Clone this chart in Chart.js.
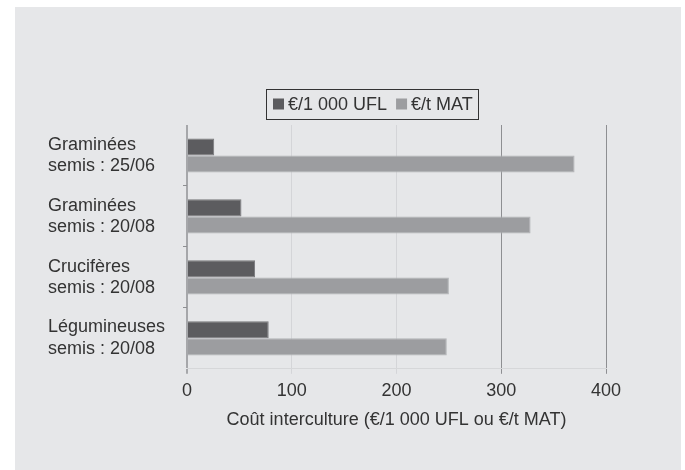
<!DOCTYPE html>
<html lang="fr">
<head>
<meta charset="utf-8">
<title>Coût interculture</title>
<script src="https://cdn.jsdelivr.net/npm/chart.js@4/dist/chart.umd.min.js"></script>
<style>
  html, body { margin: 0; padding: 0; background: #ffffff; }
  #panel {
    position: absolute; left: 15px; top: 7px;
    width: 666px; height: 463px;
    background: #e6e7e9;
  }
  #chart { display: block; }
</style>
</head>
<body>
<div id="panel"><canvas id="chart" width="666" height="463"></canvas></div>
<script>
// Intercrop types and sowing dates
const categories = [
  ['Graminées', 'semis : 25/06'],
  ['Graminées', 'semis : 20/08'],
  ['Crucifères', 'semis : 20/08'],
  ['Légumineuses', 'semis : 20/08']
];
// Cost per 1 000 UFL (energy)
const costUFL = [26, 52, 65, 78];
// Cost per tonne of MAT (protein)
const costMAT = [370, 328, 250, 248];
const seriesNames = ['€/1 000 UFL', '€/t MAT'];
const xTicks = [0, 100, 200, 300, 400];
const xTitle = 'Coût interculture (€/1 000 UFL ou €/t MAT)';

const FONT = 'Liberation Sans, Arial, Helvetica, sans-serif';
const TEXT = '#333333';

// Compact framed legend drawn above the plot
const framedLegend = {
  id: 'framedLegend',
  afterDraw(chart) {
    const ctx = chart.ctx;
    const x0 = 258, yMid = 97, box = 11, gapText = 4, gapItem = 9;
    ctx.save();
    ctx.font = '18px ' + FONT;
    ctx.textBaseline = 'middle';
    ctx.textAlign = 'left';
    let x = x0;
    chart.data.datasets.forEach((ds, i) => {
      if (i > 0) x += gapItem;
      ctx.fillStyle = ds.backgroundColor;
      ctx.fillRect(x, yMid - box / 2, box, box);
      x += box + gapText;
      ctx.fillStyle = TEXT;
      ctx.fillText(ds.label, x, yMid + 1);
      x += ctx.measureText(ds.label).width;
    });
    const l = x0 - 7, r = x + 5, t = yMid - 15, b = yMid + 15;
    ctx.strokeStyle = '#333333';
    ctx.lineWidth = 1;
    ctx.strokeRect(Math.round(l) + 0.5, Math.round(t) + 0.5, Math.round(r - l), Math.round(b - t));
    ctx.restore();
  }
};

new Chart(document.getElementById('chart'), {
  type: 'bar',
  data: {
    labels: categories,
    datasets: [
      {
        label: seriesNames[0],
        data: costUFL,
        backgroundColor: '#5c5c5f',
        borderColor: '#78787b',
        borderWidth: 1
      },
      {
        label: seriesNames[1],
        data: costMAT,
        backgroundColor: '#9c9da0',
        borderColor: '#b2b3b6',
        borderWidth: 1
      }
    ]
  },
  options: {
    indexAxis: 'y',
    responsive: false,
    animation: false,
    devicePixelRatio: 1,
    layout: { padding: { left: 33, right: 75, top: 118, bottom: 35 } },
    datasets: { bar: { categoryPercentage: 0.56, barPercentage: 1.0 } },
    plugins: {
      tooltip: { enabled: false },
      legend: { display: false }
    },
    scales: {
      x: {
        type: 'linear',
        min: 0,
        max: 400,
        afterBuildTicks(scale) { scale.ticks = xTicks.map(v => ({ value: v })); },
        border: { display: true, color: '#d6d7d9', width: 1 },
        grid: {
          drawOnChartArea: true,
          drawTicks: true,
          tickLength: 5,
          color(c) {
            const v = c.tick ? c.tick.value : null;
            if (v === 0) return '#a6a7aa';
            if (v >= 300) return '#8e8f92';
            return '#d4d5d8';
          },
          lineWidth(c) { return c.tick && c.tick.value === 0 ? 2 : 1; }
        },
        ticks: {
          padding: 6,
          color: TEXT,
          font: { family: FONT, size: 18 }
        },
        title: {
          display: true,
          text: xTitle,
          color: TEXT,
          font: { family: FONT, size: 18 },
          padding: { top: 2, bottom: 4 }
        }
      },
      y: {
        afterFit(scale) { scale.width = 139; },
        border: { display: false },
        grid: {
          offset: true,
          drawOnChartArea: false,
          drawTicks: true,
          tickLength: 4,
          color(c) { return (c.index > 0 && c.index < categories.length) ? '#8e8f92' : 'rgba(0,0,0,0)'; }
        },
        ticks: {
          crossAlign: 'far',
          color: TEXT,
          font: { family: FONT, size: 18 }
        }
      }
    }
  },
  plugins: [framedLegend]
});
</script>
</body>
</html>
